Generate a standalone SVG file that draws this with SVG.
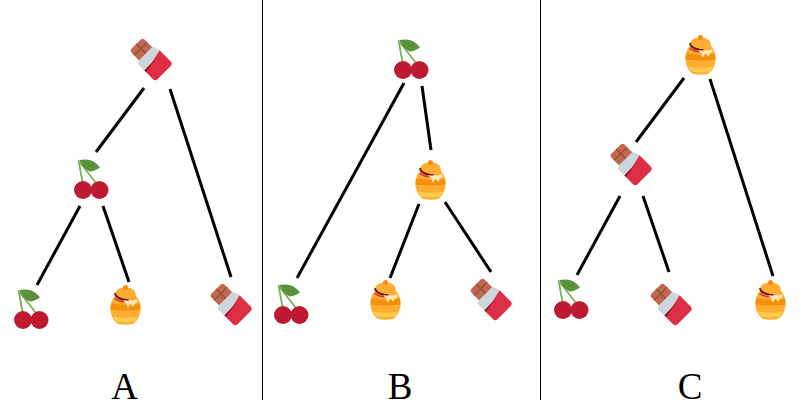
<svg xmlns="http://www.w3.org/2000/svg" width="801" height="411" viewBox="0 0 801 411">
<style>
.e{stroke:#000;stroke-width:3;stroke-linecap:butt;fill:none}
.d{stroke:#000;stroke-width:1;fill:none}
.l{font-family:"Liberation Serif",serif;font-size:37px;fill:#000;text-anchor:middle}
</style>
<defs>
<g id="choc">
<g transform="translate(-.5 -.5) rotate(45)">
<rect x="-20" y="-9.500" width="16" height="18.500" rx="3" fill="#c1694f"/>
<path d="M-13.500-9.500V9M-20-.5H-6" stroke="#99503a" stroke-width="1.600" fill="none"/>
<path d="M-6.500-10L-1-12.500L8-12.500L8 12.500L-3 12.500Q-6.500 12.500-6.500 9z" fill="#ccd6dd"/>
<path d="M1-12.500H16.500a3.500 3.500 0 0 1 3.500 3.500V9a3.500 3.500 0 0 1-3.500 3.500H7z" fill="#dd2e44"/>
<path d="M4-4L7 12.500H4.500z" fill="#a0041e"/>
</g>
</g>
<g id="cherry">
<path d="M-12.500-18L-8.500 4M-11.500-16L5 5" stroke="#77b255" stroke-width="1.800" fill="none"/>
<path d="M-11.500-18Q-5-19-1-18Q5-16 9-10.500Q3-6.500-1-6.500Q-7-8-11.500-18z" fill="#5c913b"/>
<circle cx="-8" cy="12" r="9" fill="#be1931"/>
<circle cx="8.500" cy="12" r="9" fill="#be1931"/>
</g>
<g id="honey">
<g transform="translate(0 1.300) scale(1 1.020)">
<path d="M-9-10C-13-8-15-2-15 4C-15 10-11 16-8 18Q0 20 8 18C11 16 15 10 15 4C15-2 13-8 9-10z" fill="#ffac33"/>
<path d="M-14.500-2Q0 1 14.500-2L15 4Q0 6-15 4z" fill="#f4900c"/>
<path d="M-12.500 11Q0 13.500 12.500 11L9.500 16Q0 17.500-9.500 16z" fill="#ffcc4d"/>
<path d="M-10.500-11C-10-16-5-17.500 0-17.500C5-17.500 10-16 10.500-9Q0-5-10.500-11z" fill="#ffac33"/>
<path d="M-10.500-12Q-10-7-1-5.500L3-5" stroke="#662113" stroke-width="2" fill="none"/>
<path d="M-11-6.500Q-6-3.500-1-3.500" stroke="#dd2e44" stroke-width="1.400" fill="none"/>
<path d="M-2-5Q5-4 12-6L12-3Q9-2 8 1Q6 1.500 6-1.500Q4-2 3 2Q1 2 1-2Q-1-3-2-5z" fill="#ffe8b6"/>
<circle cx="0" cy="-17.500" r="2.500" fill="#f4900c"/>
</g>
</g>
</defs>
<g id="connectors">
<line class="e" x1="144" y1="88" x2="96" y2="152"/>
<line class="e" x1="170" y1="89" x2="231" y2="277"/>
<line class="e" x1="80" y1="206" x2="37" y2="285"/>
<line class="e" x1="103" y1="206" x2="129" y2="282"/>
<line class="e" x1="404" y1="83" x2="297" y2="278"/>
<line class="e" x1="422" y1="86" x2="431" y2="150"/>
<line class="e" x1="419" y1="204" x2="390" y2="278"/>
<line class="e" x1="445" y1="202" x2="491" y2="272"/>
<line class="e" x1="684" y1="78" x2="636" y2="142"/>
<line class="e" x1="710" y1="79" x2="773" y2="276"/>
<line class="e" x1="620" y1="196" x2="577" y2="275"/>
<line class="e" x1="643" y1="196" x2="669" y2="272"/>
</g>
<line class="d" x1="262.500" y1="0" x2="262.500" y2="400"/>
<line class="d" x1="540.500" y1="0" x2="540.500" y2="400"/>
<g id="a-root"><use href="#choc" x="150.500" y="59"/></g>
<g id="a-cherry"><use href="#cherry" x="91" y="178"/></g>
<g id="a-leaf-cherry"><use href="#cherry" x="31" y="308"/></g>
<g id="a-leaf-honey"><use href="#honey" x="125.500" y="304"/></g>
<g id="a-leaf-choc"><use href="#choc" x="230.500" y="304"/></g>
<g id="b-root"><use href="#cherry" x="411" y="58"/></g>
<g id="b-honey"><use href="#honey" x="430.500" y="179"/></g>
<g id="b-leaf-cherry"><use href="#cherry" x="291" y="303"/></g>
<g id="b-leaf-honey"><use href="#honey" x="385.500" y="299"/></g>
<g id="b-leaf-choc"><use href="#choc" x="490.500" y="299"/></g>
<g id="c-root"><use href="#honey" x="700.500" y="54"/></g>
<g id="c-choc"><use href="#choc" x="630.500" y="164"/></g>
<g id="c-leaf-cherry"><use href="#cherry" x="571" y="298"/></g>
<g id="c-leaf-choc"><use href="#choc" x="670.500" y="304"/></g>
<g id="c-leaf-honey"><use href="#honey" x="770.500" y="299"/></g>
<text class="l" x="124.500" y="398.500">A</text>
<text class="l" x="400" y="398.500">B</text>
<text class="l" x="690" y="398.500">C</text>
</svg>
